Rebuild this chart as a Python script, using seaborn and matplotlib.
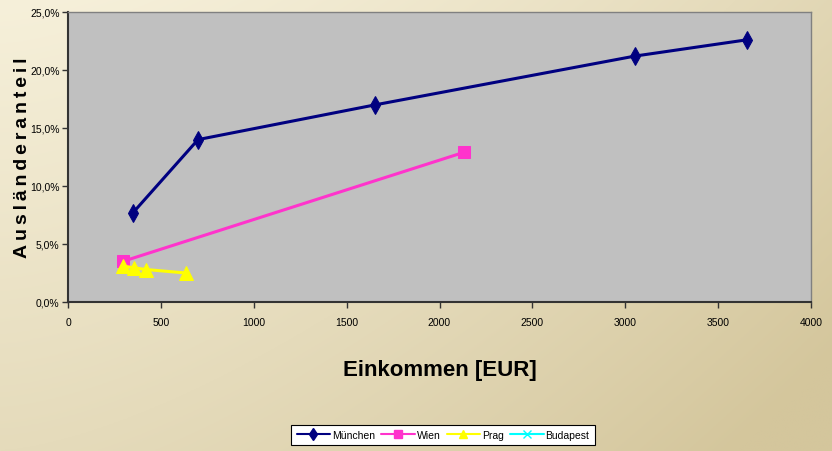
import numpy as np
import pandas as pd
import matplotlib
matplotlib.use("Agg")
import matplotlib.pyplot as plt
import seaborn as sns
from matplotlib.ticker import FuncFormatter
from matplotlib.lines import Line2D

# ---- data ----
series_names = ["München", "Wien", "Prag", "Budapest"]
muenchen_x = [350, 700, 1655, 3052, 3654]
muenchen_y = [7.7, 14.0, 17.0, 21.2, 22.6]
wien_x = [295, 2131]
wien_y = [3.5, 12.9]
prag_x = [296, 355, 420, 635]
prag_y = [3.1, 2.95, 2.8, 2.5]
budapest_x = []
budapest_y = []
x_ticks = [0, 500, 1000, 1500, 2000, 2500, 3000, 3500, 4000]
y_ticks = [0, 5, 10, 15, 20, 25]

colors = {"München": "#000080", "Wien": "#FF33CC", "Prag": "#FFFF00", "Budapest": "#00FFFF"}
markers = {"München": "d", "Wien": "s", "Prag": "^", "Budapest": "x"}
msizes = {"München": 9, "Wien": 8, "Prag": 10, "Budapest": 8}

sns.set_theme(style="white")
plt.rcParams["font.family"] = ["Liberation Sans", "DejaVu Sans"]
plt.rcParams["text.color"] = "black"
plt.rcParams["axes.labelcolor"] = "black"
plt.rcParams["xtick.color"] = "black"
plt.rcParams["ytick.color"] = "black"

frames = []
for name, xs, ys in [("München", muenchen_x, muenchen_y), ("Wien", wien_x, wien_y),
                     ("Prag", prag_x, prag_y), ("Budapest", budapest_x, budapest_y)]:
    frames.append(pd.DataFrame({"x": xs, "y": ys, "Stadt": name}))
df = pd.concat(frames, ignore_index=True)

fig = plt.figure(figsize=(8.32, 4.52), dpi=100)

# background gradient
bg = fig.add_axes([0, 0, 1, 1], zorder=-10)
gx = np.linspace(0, 1, 300)
gy = np.linspace(0, 1, 200)
GX, GY = np.meshgrid(gx, gy)
t = np.clip(0.6 * GX ** 1.5 + 0.5 * GY, 0, 1)
c0 = np.array([0xF6, 0xF0, 0xDA]) / 255
c1 = np.array([0xD4, 0xC6, 0x9C]) / 255
img = c0[None, None, :] * (1 - t[..., None]) + c1[None, None, :] * t[..., None]
bg.imshow(img, aspect="auto", extent=[0, 1, 0, 1], origin="upper")
bg.axis("off")

W, H = 832, 452
ax = fig.add_axes([68 / W, 1 - 303 / H, (811 - 68) / W, (303 - 13) / H])
ax.set_facecolor("#C0C0C0")

for name in series_names:
    sub = df[df["Stadt"] == name]
    sns.lineplot(data=sub, x="x", y="y", ax=ax, color=colors[name], linewidth=2.2,
                 marker=markers[name], markersize=msizes[name],
                 markeredgecolor=colors[name], markerfacecolor=colors[name],
                 sort=False, estimator=None, legend=False)

ax.set_xlim(0, 4000)
ax.set_ylim(0, 25)
ax.set_xticks(x_ticks)
ax.set_yticks(y_ticks)
ax.yaxis.set_major_formatter(FuncFormatter(lambda v, p: f"{v:.1f}%".replace(".", ",")))
ax.tick_params(axis="both", labelsize=7.5, length=4, width=1, color="#333333", direction="out",
               bottom=True, left=True)
ax.tick_params(axis="x", pad=7)
ax.tick_params(axis="y", pad=2)
for s in ["top", "right"]:
    ax.spines[s].set_color("#808080")
    ax.spines[s].set_linewidth(1)
for s in ["left", "bottom"]:
    ax.spines[s].set_color("#333333")
    ax.spines[s].set_linewidth(1.5)

ax.set_xlabel("Einkommen [EUR]", fontsize=16, fontweight="bold", labelpad=23)
ylab = "\u2009".join("Ausländeranteil")
ax.set_ylabel(ylab, fontsize=14, fontweight="bold")
ax.yaxis.set_label_coords(-0.05, 0.5)

handles = [Line2D([0], [0], color=colors[n], marker=markers[n], markersize=6, linewidth=1.5,
                  markerfacecolor=colors[n], markeredgecolor=colors[n]) for n in series_names]
leg = fig.legend(handles, series_names, loc="center", bbox_to_anchor=(443 / W, 1 - 436 / H),
                 ncol=4, fontsize=7.5, frameon=True, fancybox=False, handlelength=3.2,
                 columnspacing=0.6, handletextpad=0.2, borderpad=0.5)
leg.get_frame().set_edgecolor("black")
leg.get_frame().set_facecolor("white")
leg.get_frame().set_alpha(1)
leg.get_frame().set_linewidth(0.8)

fig.savefig("out.png", dpi=100)
